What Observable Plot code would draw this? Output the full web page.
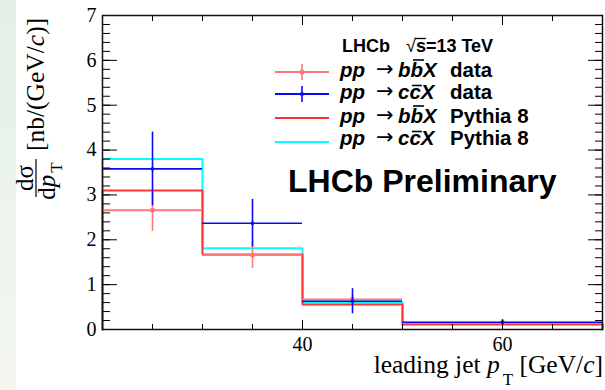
<!DOCTYPE html>
<html><head><meta charset="utf-8">
<script src="https://cdn.jsdelivr.net/npm/d3@7"></script>
<script src="https://cdn.jsdelivr.net/npm/@observablehq/plot@0.6"></script>
<style>
html,body{margin:0;padding:0;background:#fff;}
#chart{width:605px;height:390px;}
</style></head><body><div id="chart"></div>
<script>
// ---- data ----
const binEdges = [20, 30, 40, 50, 70];
const dataBBValues = [2.66, 1.66, 0.67, 0.15];
const dataBBErrors = [0.47, 0.30, 0.10, 0.03];
const dataCCValues = [3.58, 2.37, 0.63, 0.16];
const dataCCErrors = [0.82, 0.53, 0.28, 0.06];
const pythiaBBValues = [3.10, 1.67, 0.56, 0.11];
const pythiaCCValues = [3.80, 1.81, 0.60, 0.13];
const xTickLabels = [40, 60];
const xMajorTicks = [20, 40, 60];
const xMinorTicks = [20, 25, 30, 35, 40, 45, 50, 55, 60, 65, 70];
const yTickLabels = [0, 1, 2, 3, 4, 5, 6, 7];
const yMinorTicks = d3.range(0, 36).map(i => i / 5);
const legendQuarks = ["b", "c", "b", "c"];
const legendSuffix = ["data", "data", "Pythia 8", "Pythia 8"];

const colBBData = "#ff7878", colCCData = "#0a0af5", colBBPy = "#ff3333", colCCPy = "#00ffff";
const serif = "'Liberation Serif', 'Times New Roman', serif";
const sans = "'Liberation Sans', Arial, Helvetica, sans-serif";

function bins(values, errors) {
  return values.map((v, i) => ({
    lo: binEdges[i], hi: binEdges[i + 1], c: (binEdges[i] + binEdges[i + 1]) / 2,
    v, e: errors ? errors[i] : 0
  }));
}
function steps(values) {
  const pts = [{x: binEdges[0], y: 0}];
  values.forEach((v, i) => pts.push({x: binEdges[i], y: v}));
  pts.push({x: binEdges[binEdges.length - 1], y: 0});
  return pts;
}
const bbData = bins(dataBBValues, dataBBErrors);
const ccData = bins(dataCCValues, dataCCErrors);

const noText = () => "";
const plot = Plot.plot({
  width: 605, height: 390,
  marginLeft: 102, marginRight: 3, marginTop: 15, marginBottom: 61,
  x: {domain: [20, 70], label: null},
  y: {domain: [0, 7], label: null},
  style: {fontFamily: serif, fontSize: "20px", background: "transparent", overflow: "visible", color: "#000"},
  marks: [
    // pythia histograms
    Plot.line(steps(pythiaCCValues), {x: "x", y: "y", curve: "step-after", stroke: colCCPy, strokeWidth: 2}),
    Plot.line(steps(pythiaBBValues), {x: "x", y: "y", curve: "step-after", stroke: colBBPy, strokeWidth: 2}),
    // data bb
    Plot.ruleY(bbData, {x1: "lo", x2: "hi", y: "v", stroke: colBBData, strokeWidth: 2}),
    Plot.ruleX(bbData, {x: "c", y1: d => d.v - d.e, y2: d => d.v + d.e, stroke: colBBData, strokeWidth: 1.6}),
    Plot.dot(bbData, {x: "c", y: "v", symbol: "square", r: 2.4, fill: colBBData}),
    // data cc
    Plot.ruleY(ccData, {x1: "lo", x2: "hi", y: "v", stroke: colCCData, strokeWidth: 1.6}),
    Plot.ruleX(ccData, {x: "c", y1: d => d.v - d.e, y2: d => d.v + d.e, stroke: colCCData, strokeWidth: 1.6}),
    Plot.dot(ccData, {x: "c", y: "v", symbol: "square", r: 1.7, fill: colCCData}),
    // axes: inward ticks
    Plot.axisY(yMinorTicks, {anchor: "left", tickSize: -8, tickFormat: noText, label: null}),
    Plot.axisY(yTickLabels, {anchor: "left", tickSize: -15, tickFormat: noText, label: null}),
    Plot.axisY(yMinorTicks, {anchor: "right", tickSize: -8, tickFormat: noText, label: null}),
    Plot.axisY(yTickLabels, {anchor: "right", tickSize: -15, tickFormat: noText, label: null}),
    Plot.axisY(yTickLabels, {anchor: "left", tickSize: 0, tickPadding: 6, label: null}),
    Plot.axisX(xMinorTicks, {anchor: "bottom", tickSize: -5, tickFormat: noText, label: null}),
    Plot.axisX(xMajorTicks, {anchor: "bottom", tickSize: -9, tickFormat: noText, label: null}),
    Plot.axisX(xMinorTicks, {anchor: "top", tickSize: -5, tickFormat: noText, label: null}),
    Plot.axisX(xMajorTicks, {anchor: "top", tickSize: -9, tickFormat: noText, label: null}),
    Plot.axisX(xTickLabels, {anchor: "bottom", tickSize: 0, tickPadding: 7, label: null}),
    Plot.frame({stroke: "#111", strokeWidth: 1.5})
  ]
});
document.getElementById("chart").appendChild(plot);

const svg = d3.select(plot);
// slide background strip on the left
const defs = svg.insert("defs", ":first-child");
const grad = defs.append("linearGradient").attr("id", "strip").attr("x1", 0).attr("y1", 0).attr("x2", 0).attr("y2", 1);
grad.append("stop").attr("offset", "0%").attr("stop-color", "#e3f0e8");
grad.append("stop").attr("offset", "100%").attr("stop-color", "#f4f7ef");
svg.insert("rect", "defs + *").attr("x", 0).attr("y", 0).attr("width", 16).attr("height", 390).attr("fill", "url(#strip)");

// y title
const yt = svg.append("g").attr("font-family", serif).attr("fill", "#000").attr("text-anchor", "start");
const yb = yt.append("text").attr("transform", "translate(44,151) rotate(-90)").attr("font-size", 25.5);
yb.append("tspan").text("[nb/(GeV/");
yb.append("tspan").attr("font-style", "italic").text("c");
yb.append("tspan").text(")]");
const fr = yt.append("g").attr("transform", "translate(36,178) rotate(-90)");
fr.append("line").attr("x1", -19).attr("x2", 19).attr("y1", 0).attr("y2", 0).attr("stroke", "#000").attr("stroke-width", 1.2);
fr.append("text").attr("x", 0).attr("y", -3).attr("text-anchor", "middle").attr("font-size", 25).text("dσ");
const den = fr.append("text").attr("x", -3).attr("y", 19).attr("text-anchor", "middle").attr("font-size", 25);
den.append("tspan").text("d");
den.append("tspan").attr("font-style", "italic").text("p");
den.append("tspan").attr("font-size", 17).attr("dy", 7).attr("dx", 2).text("T");

// x title
const xt = svg.append("text").attr("x", 603).attr("y", 373).attr("text-anchor", "end")
  .attr("font-family", serif).attr("font-size", 25.5).attr("fill", "#000");
xt.append("tspan").text("leading jet ");
xt.append("tspan").attr("font-style", "italic").text("p");
xt.append("tspan").attr("font-size", 17).attr("dy", 12).attr("dx", 3).text("T");
xt.append("tspan").attr("dy", -12).text(" [GeV/");
xt.append("tspan").attr("font-style", "italic").text("c");
xt.append("tspan").text("]");

// legend
const leg = svg.append("g").attr("font-family", sans).attr("font-weight", "bold").attr("fill", "#000").attr("text-anchor", "start");
const hd = leg.append("text").attr("x", 342).attr("y", 52).attr("font-size", 18);
hd.append("tspan").text("LHCb");
hd.append("tspan").attr("x", 406).attr("font-weight", "normal").text("√");
hd.append("tspan").text("s=13 TeV");
{
  const n = hd.node();
  const r = n.getExtentOfChar(4), s = n.getExtentOfChar(5);
  leg.append("line").attr("x1", r.x + r.width - 1).attr("x2", s.x + s.width).attr("y1", 38.5).attr("y2", 38.5)
    .attr("stroke", "#000").attr("stroke-width", 1.3);
}

const lineYs = [72, 94, 118, 142];
const baseYs = [77, 99, 123, 145];
const legColors = [colBBData, colCCData, colBBPy, colCCPy];
legendQuarks.forEach((q, i) => {
  const y = lineYs[i];
  leg.append("line").attr("x1", 275).attr("x2", 329).attr("y1", y).attr("y2", y)
    .attr("stroke", legColors[i]).attr("stroke-width", 2);
  if (i < 2) {
    leg.append("line").attr("x1", 302).attr("x2", 302).attr("y1", y - 8).attr("y2", y + 8)
      .attr("stroke", legColors[i]).attr("stroke-width", 1.6);
    const s = i === 0 ? 4.4 : 3.2;
    leg.append("rect").attr("x", 302 - s / 2).attr("y", y - s / 2).attr("width", s).attr("height", s).attr("fill", legColors[i]);
  }
  const t = leg.append("text").attr("x", 340).attr("y", baseYs[i]).attr("font-size", 20.5);
  t.append("tspan").attr("font-style", "italic").text("pp");
  t.append("tspan").attr("x", 376).attr("dy", -1).attr("font-weight", "normal")
    .attr("font-family", "'DejaVu Sans', sans-serif").attr("font-size", 21).text("→");
  t.append("tspan").attr("x", 398).attr("dy", 1).attr("font-style", "italic").text(q + q + "X");
  t.append("tspan").attr("x", 450).text(legendSuffix[i]);
  // anti-quark bar over the second quark letter
  const e = t.node().getExtentOfChar(4);
  const by = baseYs[i] - (q === "b" ? 17 : 13.5);
  leg.append("line").attr("x1", e.x + 2.5).attr("x2", e.x + e.width + 1).attr("y1", by).attr("y2", by)
    .attr("stroke", "#000").attr("stroke-width", 1.6);
});

svg.append("text").attr("x", 288).attr("y", 192).attr("font-family", sans).attr("font-weight", "bold")
  .attr("font-size", 32).attr("fill", "#000").attr("text-anchor", "start").text("LHCb Preliminary");
</script>
</body></html>
